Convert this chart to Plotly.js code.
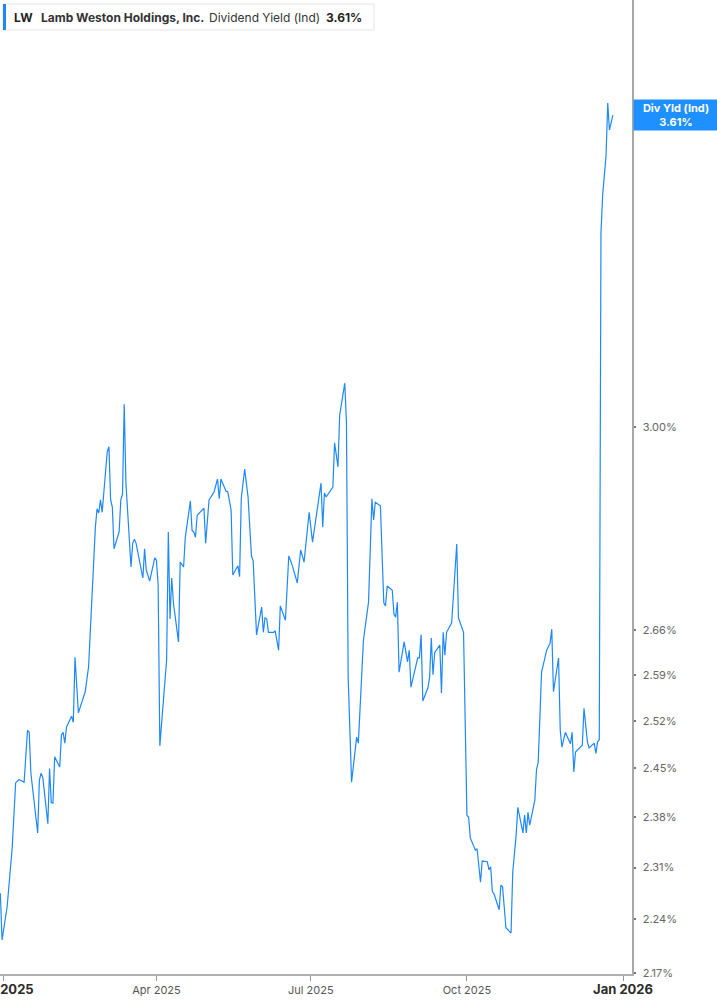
<!DOCTYPE html>
<html>
<head>
<meta charset="utf-8">
<title>LW Dividend Yield (Ind)</title>
<script src="https://cdn.plot.ly/plotly-3.0.1.min.js"></script>
<style>
    html, body { margin: 0; padding: 0; background: #fff; }
    #chart { width: 717px; height: 1005px; }
</style>
</head>
<body>
<div id="chart"></div>
<script>
// Dividend yield (Ind) readings, Lamb Weston Holdings (LW)
const dates = [
    '2024-12-30','2024-12-31','2025-01-03','2025-01-06','2025-01-08','2025-01-10','2025-01-13','2025-01-15','2025-01-16','2025-01-17',
    '2025-01-21','2025-01-22','2025-01-23','2025-01-24','2025-01-27','2025-01-28','2025-01-29','2025-01-30','2025-01-31','2025-02-03',
    '2025-02-04','2025-02-05','2025-02-06','2025-02-07','2025-02-10','2025-02-11','2025-02-12','2025-02-14','2025-02-18','2025-02-20',
    '2025-02-24','2025-02-25','2025-02-26','2025-02-27','2025-02-28','2025-03-03','2025-03-04','2025-03-05','2025-03-06','2025-03-07',
    '2025-03-10','2025-03-11','2025-03-12','2025-03-13','2025-03-14','2025-03-17','2025-03-18','2025-03-19','2025-03-20','2025-03-24',
    '2025-03-25','2025-03-26','2025-03-28','2025-03-31','2025-04-01','2025-04-02','2025-04-03','2025-04-07','2025-04-08','2025-04-09',
    '2025-04-10','2025-04-11','2025-04-14','2025-04-15','2025-04-17','2025-04-18','2025-04-21','2025-04-22','2025-04-23','2025-04-24',
    '2025-04-25','2025-04-28','2025-04-29','2025-04-30','2025-05-02','2025-05-05','2025-05-07','2025-05-08','2025-05-09','2025-05-12',
    '2025-05-13','2025-05-15','2025-05-16','2025-05-19','2025-05-20','2025-05-21','2025-05-23','2025-05-25','2025-05-27','2025-05-28',
    '2025-05-30','2025-06-02','2025-06-03','2025-06-04','2025-06-05','2025-06-06','2025-06-09','2025-06-10','2025-06-12','2025-06-13',
    '2025-06-16','2025-06-18','2025-06-20','2025-06-23','2025-06-25','2025-06-27','2025-06-30','2025-07-02','2025-07-07','2025-07-08',
    '2025-07-09','2025-07-10','2025-07-14','2025-07-15','2025-07-17','2025-07-18','2025-07-21','2025-07-22','2025-07-23','2025-07-25',
    '2025-07-28','2025-07-29','2025-08-01','2025-08-04','2025-08-06','2025-08-07','2025-08-08','2025-08-11','2025-08-13','2025-08-14',
    '2025-08-15','2025-08-18','2025-08-19','2025-08-20','2025-08-21','2025-08-22','2025-08-25','2025-08-27','2025-08-28','2025-08-29',
    '2025-09-02','2025-09-03','2025-09-04','2025-09-05','2025-09-08','2025-09-09','2025-09-10','2025-09-11','2025-09-12','2025-09-15',
    '2025-09-16','2025-09-17','2025-09-18','2025-09-19','2025-09-22','2025-09-25','2025-09-26','2025-09-29','2025-10-01','2025-10-02',
    '2025-10-03','2025-10-06','2025-10-07','2025-10-09','2025-10-10','2025-10-13','2025-10-14','2025-10-15','2025-10-16','2025-10-17',
    '2025-10-20','2025-10-21','2025-10-22','2025-10-24','2025-10-27','2025-10-28','2025-10-30','2025-10-31','2025-11-03','2025-11-04',
    '2025-11-05','2025-11-06','2025-11-07','2025-11-10','2025-11-11','2025-11-12','2025-11-13','2025-11-14','2025-11-17','2025-11-19',
    '2025-11-20','2025-11-21','2025-11-24','2025-11-25','2025-11-26','2025-11-28','2025-12-01','2025-12-02','2025-12-03','2025-12-04',
    '2025-12-08','2025-12-09','2025-12-11','2025-12-12','2025-12-15','2025-12-16','2025-12-17','2025-12-18','2025-12-19','2025-12-20',
    '2025-12-22','2025-12-23','2025-12-24','2025-12-26'
];

const yields = [
    2.275, 2.213, 2.257, 2.338, 2.429, 2.434, 2.430, 2.506, 2.503, 2.443,
    2.358, 2.433, 2.443, 2.437, 2.371, 2.450, 2.401, 2.400, 2.467, 2.452,
    2.499, 2.503, 2.487, 2.511, 2.527, 2.518, 2.617, 2.532, 2.564, 2.602,
    2.827, 2.858, 2.851, 2.873, 2.852, 2.956, 2.965, 2.873, 2.861, 2.791,
    2.819, 2.873, 2.883, 3.041, 2.902, 2.761, 2.800, 2.807, 2.800, 2.743,
    2.791, 2.756, 2.738, 2.776, 2.772, 2.732, 2.483, 2.613, 2.819, 2.677,
    2.743, 2.703, 2.641, 2.769, 2.761, 2.810, 2.871, 2.821, 2.819, 2.810,
    2.847, 2.856, 2.859, 2.800, 2.873, 2.887, 2.909, 2.875, 2.909, 2.888,
    2.887, 2.856, 2.748, 2.763, 2.745, 2.876, 2.926, 2.878, 2.779, 2.771,
    2.652, 2.696, 2.656, 2.679, 2.677, 2.656, 2.656, 2.658, 2.628, 2.698,
    2.675, 2.779, 2.764, 2.735, 2.789, 2.769, 2.852, 2.802, 2.902, 2.827,
    2.885, 2.878, 2.895, 2.972, 2.930, 3.021, 3.079, 3.009, 2.586, 2.430,
    2.496, 2.487, 2.644, 2.704, 2.875, 2.839, 2.869, 2.863, 2.703, 2.698,
    2.730, 2.723, 2.685, 2.680, 2.704, 2.594, 2.641, 2.610, 2.628, 2.571,
    2.616, 2.616, 2.652, 2.550, 2.570, 2.586, 2.647, 2.590, 2.624, 2.636,
    2.562, 2.656, 2.620, 2.656, 2.671, 2.799, 2.679, 2.656, 2.383, 2.380,
    2.351, 2.334, 2.336, 2.290, 2.319, 2.318, 2.307, 2.311, 2.277, 2.274,
    2.253, 2.286, 2.284, 2.229, 2.222, 2.304, 2.355, 2.394, 2.358, 2.383,
    2.358, 2.387, 2.369, 2.404, 2.448, 2.459, 2.533, 2.594, 2.628, 2.639,
    2.661, 2.564, 2.616, 2.506, 2.481, 2.503, 2.486, 2.503, 2.445, 2.474,
    2.484, 2.539, 2.489, 2.480, 2.487, 2.472, 2.489, 2.492, 3.366, 3.443,
    3.525, 3.636, 3.578, 3.610
];

const yTickVals = [2.17, 2.24, 2.31, 2.38, 2.45, 2.52, 2.59, 2.66, 3.00];
const xTickVals = ['2025-01-01', '2025-04-01', '2025-07-01', '2025-10-01', '2026-01-01'];
const xTickLabels = ['Jan 2025', 'Apr 2025', 'Jul 2025', 'Oct 2025', 'Jan 2026'];

const LINE_BLUE = '#1e88fa';
const PLOT_W = 632, PLOT_H = 974;

// pixel -> paper helpers for the header widgets
const px = v => v / PLOT_W;
const py = v => 1 - v / PLOT_H;

function fmtPct(v) {
    return v.toFixed(2) + '%';
}

function xTickText() {
    return xTickLabels.map(lbl => lbl.startsWith('Jan')
        ? '<b><span style="color:#2b2b2b;font-size:13px">' + lbl + '</span></b>'
        : lbl);
}

function headerAnnotations(lastVal) {
    const base = { xref: 'paper', yref: 'paper', y: py(17), yanchor: 'middle', xanchor: 'left', showarrow: false };
    return [
        Object.assign({}, base, { x: px(12), text: '<b>LW</b>', font: { size: 12, color: '#1f1f1f' } }),
        Object.assign({}, base, { x: px(39), text: '<b>Lamb Weston Holdings, Inc.</b>', font: { size: 12, color: '#333' } }),
        Object.assign({}, base, { x: px(207), text: 'Dividend Yield (Ind)', font: { size: 12, color: '#333' } }),
        Object.assign({}, base, { x: px(324), text: '<b>' + fmtPct(lastVal) + '</b>', font: { size: 12, color: '#1f1f1f' } })
    ];
}

function renderChart() {
    const lastVal = yields[yields.length - 1];

    const trace = {
        x: dates,
        y: yields,
        type: 'scatter',
        mode: 'lines',
        line: { color: LINE_BLUE, width: 1.2 },
        hoverinfo: 'x+y'
    };

    const layout = {
        width: 717,
        height: 1005,
        margin: { l: 0, r: 717 - PLOT_W, t: 0, b: 1005 - PLOT_H },
        paper_bgcolor: '#fff',
        plot_bgcolor: '#fff',
        font: { family: 'Inter, "Noto Sans", sans-serif', size: 11, color: '#666' },
        showlegend: false,
        xaxis: {
            type: 'date',
            range: ['2024-12-29 19:00', '2026-01-06 07:00'],
            tickmode: 'array',
            tickvals: xTickVals,
            ticktext: xTickText(),
            tickfont: { size: 11, color: '#555' },
            // the first label runs past the left edge, as in the source
            ticklabeloverflow: 'allow',
            showline: true,
            linecolor: '#b0b0b0',
            linewidth: 2,
            ticks: 'outside',
            ticklen: 5,
            tickwidth: 1,
            tickcolor: '#9a9a9a',
            showgrid: false,
            zeroline: false,
            fixedrange: true
        },
        yaxis: {
            type: 'log',
            side: 'right',
            range: [0.33620, 0.58714],
            tickmode: 'array',
            tickvals: yTickVals,
            ticktext: yTickVals.map(fmtPct),
            tickfont: { size: 11, color: '#666' },
            showline: true,
            linecolor: '#a8a8a8',
            linewidth: 1.5,
            ticks: 'outside',
            ticklen: 2,
            tickwidth: 2,
            tickcolor: '#777',
            ticklabelstandoff: 5,
            showgrid: false,
            zeroline: false,
            fixedrange: true
        },
        shapes: [
            // header box + blue marker
            { type: 'rect', xref: 'paper', yref: 'paper', x0: px(3), x1: px(374), y0: py(30), y1: py(4),
              line: { color: '#e4e4e4', width: 1 }, fillcolor: '#fff', layer: 'above' },
            { type: 'rect', xref: 'paper', yref: 'paper', x0: px(3), x1: px(6), y0: py(30), y1: py(4),
              line: { width: 0 }, fillcolor: LINE_BLUE, layer: 'above' }
        ],
        annotations: headerAnnotations(lastVal).concat([
            {
                // last value flag on the right axis
                xref: 'paper', yref: 'y',
                x: 1, xanchor: 'left', xshift: 1,
                y: Math.log10(lastVal), yanchor: 'middle',
                text: '<b>Div Yld (Ind)</b><br><b>' + fmtPct(lastVal) + '</b>',
                showarrow: false,
                align: 'center',
                width: 80,
                height: 26,
                bgcolor: '#1e90ff',
                borderpad: 2,
                font: { size: 11, color: '#fff' }
            }
        ])
    };

    Plotly.newPlot('chart', [trace], layout, { displayModeBar: false, staticPlot: true });
}

document.addEventListener('DOMContentLoaded', renderChart);
</script>
</body>
</html>
